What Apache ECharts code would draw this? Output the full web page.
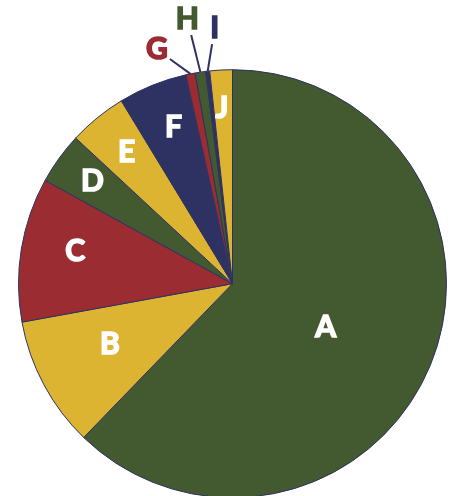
<!DOCTYPE html>
<html>
<head>
<meta charset="utf-8">
<script src="https://cdn.jsdelivr.net/npm/echarts@6/dist/echarts.min.js"></script>
<style>
  html, body { margin: 0; padding: 0; background: #ffffff; }
  #chart { width: 454px; height: 496px; }
</style>
</head>
<body>
<div id="chart"></div>
<script>
// slice names and shares (percent), clockwise from 12 o'clock
const categories = ['A', 'B', 'C', 'D', 'E', 'F', 'G', 'H', 'I', 'J']
const values = [62.3, 9.9, 10.9, 3.9, 4.4, 5.2, 0.7, 0.8, 0.3, 1.7]
const outsideLabels = ['G', 'H', 'I']

const GREEN = '#43592f'
const YELLOW = '#ddb432'
const RED = '#9b2c32'
const NAVY = '#2e3262'
const sliceColors = [GREEN, YELLOW, RED, GREEN, YELLOW, NAVY, RED, GREEN, NAVY, YELLOW]

// label placement (style only): inner labels as fraction of radius plus a
// small angle shift from the slice middle, outer labels as [angle, distance px]
const innerLabelRadius = [0.48, 0.64, 0.75, 0.81, 0.79, 0.78, 0, 0, 0, 0.82]
const innerLabelShift = [2.8, 1.7, 2.2, 0.2, 0.4, 1.2, 0, 0, 0, -0.4]
const outerLabelPos = { G: [342.1, 246], H: [350.3, 268], I: [356.0, 256] }

const CX = 232.5, CY = 283.7, R = 214

const total = values.reduce((s, v) => s + v, 0)
const midAngles = []
let acc = 0
values.forEach(v => {
  midAngles.push((acc + v / 2) / total * 360)
  acc += v
})

const polar = (deg, r) => {
  const a = deg * Math.PI / 180
  return [CX + r * Math.sin(a), CY - r * Math.cos(a)]
}

const chart = echarts.init(document.getElementById('chart'))
chart.setOption({
  backgroundColor: '#ffffff',
  animation: false,
  series: [
    {
      type: 'pie',
      center: [CX, CY],
      radius: R,
      startAngle: 90,
      clockwise: true,
      avoidLabelOverlap: false,
      emphasis: { disabled: true },
      itemStyle: {
        borderColor: NAVY,
        borderWidth: 1
      },
      label: {
        show: true,
        position: 'inside',
        color: '#ffffff',
        // a thin stroke in the text colour makes the letters heavier
        textBorderColor: '#ffffff',
        textBorderWidth: 1.6,
        fontFamily: 'Lato',
        fontWeight: 'bold',
        fontSize: 30,
        formatter: '{b}'
      },
      labelLine: { show: false },
      labelLayout: params => {
        const i = params.dataIndex
        const name = categories[i]
        if (outsideLabels.indexOf(name) >= 0) {
          const p = outerLabelPos[name]
          const lab = polar(p[0], p[1])
          const start = polar(midAngles[i], R)
          const dx = start[0] - lab[0], dy = start[1] - lab[1]
          const d = Math.sqrt(dx * dx + dy * dy)
          const end = [lab[0] + dx / d * 16, lab[1] + dy / d * 16]
          return {
            x: lab[0], y: lab[1], align: 'center', verticalAlign: 'middle',
            labelLinePoints: [start, end, end]
          }
        }
        const pos = polar(midAngles[i] + innerLabelShift[i], innerLabelRadius[i] * R)
        return { x: pos[0], y: pos[1], align: 'center', verticalAlign: 'middle' }
      },
      data: categories.map((name, i) => {
        const item = { name: name, value: values[i], itemStyle: { color: sliceColors[i] } }
        if (outsideLabels.indexOf(name) >= 0) {
          item.label = {
            position: 'outside',
            color: sliceColors[i],
            textBorderColor: sliceColors[i]
          }
          item.labelLine = {
            show: true, length: 10, length2: 0,
            lineStyle: { color: NAVY, width: 2 }
          }
        }
        return item
      })
    }
  ]
})
</script>
</body>
</html>
